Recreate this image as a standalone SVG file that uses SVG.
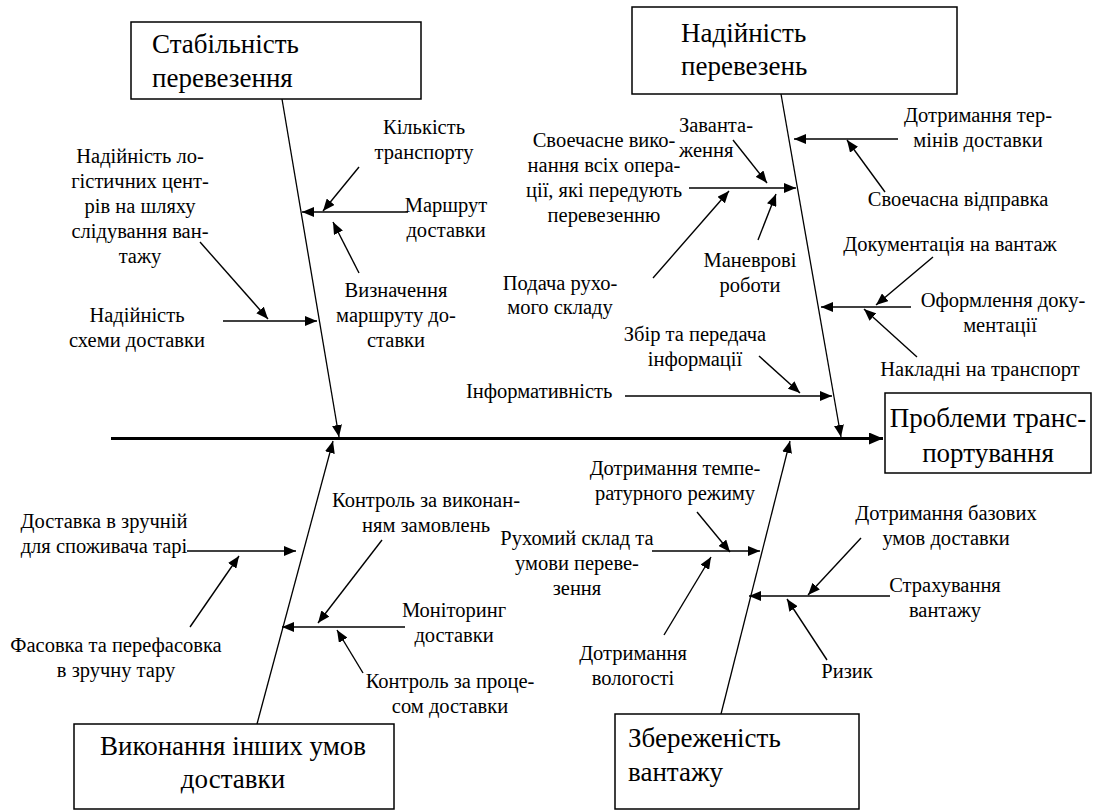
<svg xmlns="http://www.w3.org/2000/svg" width="1093" height="810" viewBox="0 0 1093 810">
<style>
.box{fill:#fff;stroke:#000;stroke-width:1.5}
.t{font-family:"Liberation Serif","Times New Roman",serif;font-size:27px;fill:#000}
.l{font-family:"Liberation Serif","Times New Roman",serif;font-size:20.5px;fill:#000}
.m{text-anchor:middle}
.c line{stroke:#000;stroke-width:1.4;marker-end:url(#ah)}
.c line.sp{stroke-width:1.3}
.c line.main{stroke-width:3.2;marker-end:url(#ahb)}
</style>
<defs>
<marker id="ah" viewBox="0 0 12 10" refX="12" refY="5" markerWidth="12" markerHeight="10" markerUnits="userSpaceOnUse" orient="auto"><path d="M0,0 L12,5 L0,10 z" fill="#000"/></marker>
<marker id="ahb" viewBox="0 0 14 12" refX="14" refY="6" markerWidth="14" markerHeight="12" markerUnits="userSpaceOnUse" orient="auto"><path d="M0,0 L14,6 L0,12 z" fill="#000"/></marker>
</defs>
<rect width="1093" height="810" fill="#fff"/>

<g id="connectors" class="c">
<line class="main" x1="111" y1="438.5" x2="883" y2="438.5"/>
<line class="sp" x1="282" y1="99" x2="339" y2="437"/>
<line class="sp" x1="781" y1="94" x2="841" y2="437"/>
<line class="sp" x1="257" y1="724" x2="333" y2="441"/>
<line class="sp" x1="721" y1="714" x2="790" y2="441"/>
<line x1="408" y1="212" x2="302" y2="212"/>
<line x1="359" y1="167" x2="323" y2="211"/>
<line x1="359" y1="273" x2="333" y2="222"/>
<line x1="223" y1="321" x2="317" y2="321"/>
<line x1="200" y1="242" x2="268" y2="319"/>
<line x1="898" y1="139" x2="794" y2="139"/>
<line x1="885" y1="192" x2="847" y2="140"/>
<line x1="689" y1="188" x2="796" y2="188"/>
<line x1="733" y1="140" x2="767" y2="183"/>
<line x1="653" y1="278" x2="729" y2="191"/>
<line x1="758" y1="240" x2="776" y2="194"/>
<line x1="911" y1="307" x2="821" y2="307"/>
<line x1="933" y1="257" x2="876" y2="305"/>
<line x1="917" y1="357" x2="864" y2="309"/>
<line x1="625" y1="396" x2="832" y2="396"/>
<line x1="759" y1="356" x2="800" y2="393"/>
<line x1="187" y1="551" x2="296" y2="551"/>
<line x1="190" y1="627" x2="239" y2="556"/>
<line x1="405" y1="627" x2="282" y2="627"/>
<line x1="382" y1="540" x2="318" y2="623"/>
<line x1="363" y1="673" x2="337" y2="630"/>
<line x1="652" y1="551" x2="760" y2="551"/>
<line x1="697" y1="512" x2="730" y2="552"/>
<line x1="664" y1="635" x2="711" y2="557"/>
<line x1="890" y1="596" x2="749" y2="596"/>
<line x1="861" y1="538" x2="808" y2="595"/>
<line x1="827" y1="660" x2="787" y2="599"/>
</g>

<g id="box-stability">
<rect class="box" x="131" y="22" width="290" height="77"/>
<text class="t" x="152" y="53">Стабільність</text>
<text class="t" x="152" y="87">перевезення</text>
</g>
<g id="box-reliability">
<rect class="box" x="632" y="7" width="325" height="87"/>
<text class="t" x="681" y="42">Надійність</text>
<text class="t" x="681" y="75">перевезень</text>
</g>
<g id="box-result">
<rect class="box" x="885" y="393" width="206" height="80"/>
<text class="t m" x="988" y="427">Проблеми транс-</text>
<text class="t m" x="988" y="462">портування</text>
</g>
<g id="box-other">
<rect class="box" x="74" y="724" width="320" height="85"/>
<text class="t m" x="233" y="755">Виконання інших умов</text>
<text class="t m" x="233" y="788">доставки</text>
</g>
<g id="box-safety">
<rect class="box" x="615" y="714" width="244" height="95"/>
<text class="t" x="628" y="747">Збереженість</text>
<text class="t" x="628" y="781">вантажу</text>
</g>

<g id="n-kilkist"><text class="l m" x="424" y="134">Кількість</text><text class="l m" x="424" y="159">транспорту</text></g>
<g id="n-marshrut"><text class="l m" x="446" y="212">Маршрут</text><text class="l m" x="446" y="237">доставки</text></g>
<g id="n-vyznach"><text class="l m" x="396" y="297">Визначення</text><text class="l m" x="396" y="322">маршруту до-</text><text class="l m" x="396" y="347">ставки</text></g>
<g id="n-logist"><text class="l m" x="140" y="163">Надійність ло-</text><text class="l m" x="140" y="188">гістичних цент-</text><text class="l m" x="140" y="213">рів на шляху</text><text class="l m" x="140" y="238">слідування ван-</text><text class="l m" x="140" y="263">тажу</text></g>
<g id="n-skhema"><text class="l m" x="137" y="322">Надійність</text><text class="l m" x="137" y="347">схеми доставки</text></g>

<g id="n-termin"><text class="l m" x="978" y="122">Дотримання тер-</text><text class="l m" x="978" y="147">мінів доставки</text></g>
<g id="n-vidpravka"><text class="l m" x="958" y="206">Своечасна відправка</text></g>
<g id="n-svoech"><text class="l m" x="604" y="147">Своечасне вико-</text><text class="l m" x="604" y="172">нання всіх опера-</text><text class="l m" x="604" y="197">ції, які передують</text><text class="l m" x="604" y="222">перевезенню</text></g>
<g id="n-zavant"><text class="l" x="679" y="132">Заванта-</text><text class="l" x="679" y="157">ження</text></g>
<g id="n-podacha"><text class="l m" x="560" y="290">Подача рухо-</text><text class="l m" x="560" y="314">мого складу</text></g>
<g id="n-manevr"><text class="l m" x="750" y="267">Маневрові</text><text class="l m" x="750" y="292">роботи</text></g>
<g id="n-dokum"><text class="l m" x="950" y="251">Документація на вантаж</text></g>
<g id="n-oform"><text class="l m" x="1003" y="307">Оформлення доку-</text><text class="l m" x="1000" y="332">ментації</text></g>
<g id="n-nakladni"><text class="l m" x="980" y="376">Накладні на транспорт</text></g>
<g id="n-zbir"><text class="l m" x="695" y="341">Збір та передача</text><text class="l m" x="695" y="366">інформації</text></g>
<g id="n-inform"><text class="l" x="466" y="398">Інформативність</text></g>

<g id="n-tara"><text class="l m" x="104" y="528">Доставка в зручній</text><text class="l m" x="104" y="553">для споживача тарі</text></g>
<g id="n-fasovka"><text class="l m" x="116" y="652">Фасовка та перефасовка</text><text class="l m" x="116" y="677">в зручну тару</text></g>
<g id="n-kontrol1"><text class="l m" x="426" y="507">Контроль за виконан-</text><text class="l m" x="426" y="532">ням замовлень</text></g>
<g id="n-monitor"><text class="l m" x="454" y="617">Моніторинг</text><text class="l m" x="454" y="642">доставки</text></g>
<g id="n-kontrol2"><text class="l m" x="450" y="688">Контроль за проце-</text><text class="l m" x="450" y="713">сом доставки</text></g>

<g id="n-temp"><text class="l m" x="675" y="475">Дотримання темпе-</text><text class="l m" x="675" y="500">ратурного режиму</text></g>
<g id="n-rukhomyi"><text class="l m" x="577" y="545">Рухомий склад та</text><text class="l m" x="577" y="570">умови переве-</text><text class="l m" x="577" y="595">зення</text></g>
<g id="n-volog"><text class="l m" x="633" y="660">Дотримання</text><text class="l m" x="633" y="685">вологості</text></g>
<g id="n-bazovi"><text class="l m" x="946" y="520">Дотримання базових</text><text class="l m" x="946" y="545">умов доставки</text></g>
<g id="n-strakh"><text class="l m" x="945" y="592">Страхування</text><text class="l m" x="945" y="617">вантажу</text></g>
<g id="n-ryzyk"><text class="l m" x="847" y="678">Ризик</text></g>
</svg>
